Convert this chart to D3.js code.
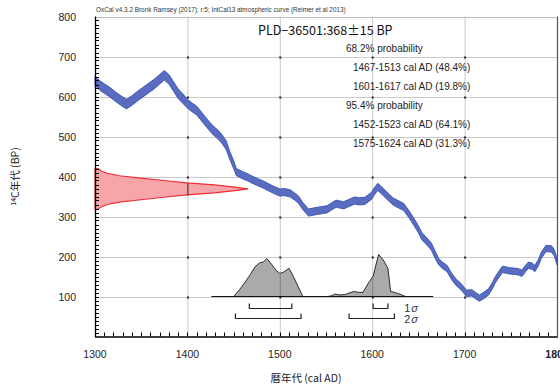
<!DOCTYPE html>
<html><head><meta charset="utf-8">
<script src="https://cdn.jsdelivr.net/npm/d3@7"></script>
<style>
body{margin:0;background:#fff;}
svg{display:block;}
</style></head>
<body>
<svg id="chart" width="560" height="385"></svg>
<script>
// ---- data ----
const headerText = "OxCal v4.3.2 Bronk Ramsey (2017); r:5; IntCal13 atmospheric curve (Reimer et al 2013)";
const sampleTitle = "PLD\u221236501:368\u00B115 BP";
const probLines = ["68.2% probability","1467-1513 cal AD (48.4%)","1601-1617 cal AD (19.8%)","95.4% probability","1452-1523 cal AD (64.1%)","1575-1624 cal AD (31.3%)"];
const probIndent = [0,1,1,0,1,1];
const xTicks = [1300,1400,1500,1600,1700,1800];
const yTicks = [100,200,300,400,500,600,700,800];
const xDomain = [1300,1800];
const yDomain = [0,800];

const calYear = [1300,1305,1310,1316,1322,1328,1334,1340,1346,1352,1358,1364,1370,1375,1380,1385,1390,1395,1400,1405,1410,1417,1423,1428,1433,1437,1442,1446,1450,1453,1460,1466,1471,1476,1482,1488,1493,1500,1505,1511,1516,1520,1525,1531,1536,1540,1546,1551,1556,1561,1565,1569,1575,1581,1586,1592,1596,1599,1603,1606,1609,1612,1616,1619,1623,1628,1634,1640,1645,1650,1654,1659,1664,1668,1672,1676,1681,1686,1691,1696,1702,1708,1712,1716,1721,1726,1730,1733,1737,1741,1745,1749,1754,1758,1762,1766,1769,1773,1776,1780,1783,1788,1794,1797,1800];
const calBP = [640,628,620,611,600,590,581,590,601,611,621,631,643,653,643,625,607,595,582,573,565,545,528,515,505,495,478,452,430,411,403,397,391,386,380,373,367,360,361,358,350,343,326,310,312,314,316,318,325,332,330,328,334,340,338,339,346,351,365,374,368,361,352,345,337,331,324,305,287,268,250,238,225,205,187,178,170,150,135,125,108,109,102,96,103,112,127,141,155,168,166,164,163,162,158,170,178,176,170,185,203,220,219,210,187];
const calErr = [12,12,12,12,12,12,12,12,12,12,12,12,12,12,12,12,12,12,11,11,11,11,11,11,11,11,11,10,10,9,9,9,9,9,9,9,9,9,9,9,9,9,9,9,9,9,9,9,9,9,9,9,9,9,9,9,9,9,9,9,9,9,9,9,9,9,9,9,9,9,9,9,9,9,8,8,8,8,8,8,8,8,8,8,8,8,8,8,8,8,8,8,8,8,8,8,8,8,8,8,8,8,8,8,8];

const rcBP   = [420,414,408,402,396,390,384,379,374,369,364,359,354,348,342,336,330,324,318];
const rcDens = [0.02,0.04,0.08,0.16,0.30,0.45,0.60,0.78,0.90,1.0,0.90,0.78,0.60,0.45,0.30,0.16,0.08,0.04,0.02];
const rcMean = 368, rcSigma = 15;

// calibrated probability distribution (two parts)
const hist1Year = [1450,1456,1462,1468,1473,1478,1482,1486,1491,1496,1500,1504,1510,1513,1517,1521,1525];
const hist1P    = [0,0.15,0.33,0.52,0.70,0.80,0.82,0.90,0.77,0.62,0.55,0.58,0.67,0.55,0.37,0.18,0];
const hist2Year = [1552,1556,1560,1563,1567,1571,1576,1580,1585,1590,1594,1597,1601,1604,1607,1612,1617,1620,1624,1628,1632,1636];
const hist2P    = [0,0.02,0.06,0.04,0.04,0.05,0.09,0.12,0.10,0.10,0.25,0.36,0.48,0.75,1.0,0.87,0.67,0.12,0.10,0.07,0.04,0];
const histRange = [1426,1666];
const histBaseBP = 100;
const sigma1 = [[1467,1513],[1601,1617]];
const sigma2 = [[1452,1523],[1575,1624]];

// ---- drawing ----
const svg = d3.select("#chart");
const L=95, R=557, T=16.5, B=336.5;
const x = d3.scaleLinear().domain(xDomain).range([L,R]);
const y = d3.scaleLinear().domain(yDomain).range([B,T]);
const sans = "'Liberation Sans', Arial, sans-serif";
const jp = "'Noto Sans CJK JP', sans-serif";

// grid
const g = svg.append("g");
g.selectAll(".vg").data(xTicks.filter(t=>t>xDomain[0]&&t<xDomain[1])).enter().append("line")
  .attr("x1",d=>x(d)+0.5).attr("x2",d=>x(d)+0.5).attr("y1",T).attr("y2",B)
  .attr("stroke","#c9c9c9").attr("stroke-width",1);
g.selectAll(".hg").data(yTicks.filter(t=>t<yDomain[1])).enter().append("line")
  .attr("y1",d=>Math.round(y(d))+0.5).attr("y2",d=>Math.round(y(d))+0.5).attr("x1",L).attr("x2",R)
  .attr("stroke","#c9c9c9").attr("stroke-width",1);
// top border
g.append("line").attr("x1",L).attr("x2",R).attr("y1",Math.round(T)+0.5).attr("y2",Math.round(T)+0.5).attr("stroke","#bdbdbd");

// intersection marks
const inter=[];
xTicks.filter(t=>t>1300&&t<1800).forEach(a=>yTicks.filter(t=>t<800).forEach(b=>inter.push([a,b])));
g.selectAll(".im").data(inter).enter().append("rect")
  .attr("x",d=>x(d[0])-0.5).attr("y",d=>Math.round(y(d[1]))-0.5).attr("width",2).attr("height",2).attr("fill","#222");

// red measured distribution
const densX = d3.scaleLinear().domain([0,1]).range([x(xDomain[0]), x(xDomain[0])+153]);
const rc = rcBP.map((b,i)=>({b, d:rcDens[i]}));
const rcArea = d3.area().y(d=>y(d.b)).x0(x(xDomain[0])).x1(d=>densX(d.d)).curve(d3.curveLinear);
svg.append("path").attr("d",rcArea(rc)).attr("fill","#f6a5a8").attr("stroke","#ee2d34").attr("stroke-width",1.1);
// dark gridline segment inside the red shape (1 sigma)
svg.append("line").attr("x1",x(1400)+0.5).attr("x2",x(1400)+0.5)
  .attr("y1",y(rcMean+rcSigma)).attr("y2",y(rcMean-rcSigma)).attr("stroke","#222").attr("stroke-width",1);

// calibration curve band
const cal = calYear.map((t,i)=>({t, b:calBP[i], e:calErr[i]}));
const calArea = d3.area().x(d=>x(d.t)).y0(d=>y(d.b-d.e)).y1(d=>y(d.b+d.e)).curve(d3.curveLinear);
svg.append("path").attr("d",calArea(cal)).attr("fill","#5a6cc0").attr("stroke","#3653b6").attr("stroke-width",0.9);

// calibrated histogram
const baseY = y(histBaseBP);
const hY = d3.scaleLinear().domain([0,1]).range([baseY, baseY-42]);
const histArea = d3.area().x(d=>x(d.t)).y0(baseY).y1(d=>hY(d.p));
[[hist1Year,hist1P],[hist2Year,hist2P]].forEach(([ys,ps],k)=>{
  const data = ys.map((t,i)=>({t,p:ps[i]}));
  svg.append("path").attr("d",histArea(data)).attr("fill","#aaaaaa").attr("stroke","#1a1a1a").attr("stroke-width",0.9);
});
// darker grid line through histogram
svg.append("line").attr("x1",x(1500)+0.5).attr("x2",x(1500)+0.5).attr("y1",hY(0.55)).attr("y2",baseY).attr("stroke","#808080");
svg.append("line").attr("x1",x(1600)+0.5).attr("x2",x(1600)+0.5).attr("y1",hY(0.44)).attr("y2",baseY).attr("stroke","#808080");
svg.append("line").attr("x1",x(histRange[0])).attr("x2",x(histRange[1])).attr("y1",baseY).attr("y2",baseY)
  .attr("stroke","#111").attr("stroke-width",1.2);

// sigma brackets
function bracket(ranges, yy){
  ranges.forEach(r=>{
    svg.append("path").attr("d",`M${x(r[0])},${yy-5}V${yy}H${x(r[1])}V${yy-5}`)
      .attr("fill","none").attr("stroke","#222").attr("stroke-width",1.2);
  });
}
bracket(sigma1, baseY+12);
bracket(sigma2, baseY+22);
[["1",baseY+15.5],["2",baseY+26.5]].forEach(([n,yy])=>{
  const t = svg.append("text").attr("x",x(1626)+8).attr("y",yy).attr("font-family",sans).attr("font-size",11).attr("fill","#333");
  t.append("tspan").text(n);
  t.append("tspan").attr("font-style","italic").attr("dx",1).text("\u03C3");
});

// axes
svg.append("line").attr("x1",L+0.5).attr("x2",L+0.5).attr("y1",T).attr("y2",B+0.5).attr("stroke","#000").attr("stroke-width",1.3);
svg.append("line").attr("x1",L).attr("x2",R+1).attr("y1",B+0.5).attr("y2",B+0.5).attr("stroke","#000").attr("stroke-width",1.3);
svg.append("line").attr("x1",R+0.5).attr("x2",R+0.5).attr("y1",T).attr("y2",B+0.5).attr("stroke","#555").attr("stroke-width",1.2);
const yMinor = d3.range(yDomain[0]+10, yDomain[1], 10);
svg.selectAll(".ymt").data(yMinor).enter().append("line")
  .attr("x1",L).attr("x2",L+4).attr("y1",d=>Math.round(y(d))+0.5).attr("y2",d=>Math.round(y(d))+0.5).attr("stroke","#000");
const xMinor = d3.range(xDomain[0]+10, xDomain[1], 10);
svg.selectAll(".xmt").data(xMinor).enter().append("line")
  .attr("x1",d=>Math.round(x(d))+0.5).attr("x2",d=>Math.round(x(d))+0.5).attr("y1",B).attr("y2",B-4).attr("stroke","#000");

// tick labels
svg.selectAll(".yl").data(yTicks).enter().append("text")
  .attr("x",L-19).attr("y",d=>y(d)+4).attr("text-anchor","end")
  .attr("font-family",sans).attr("font-size",10.5).attr("fill","#222").text(d=>d);
svg.selectAll(".xl").data(xTicks).enter().append("text")
  .attr("x",d=>x(d)).attr("y",B+21).attr("text-anchor","middle")
  .attr("font-family",sans).attr("font-size",10.5).attr("fill","#222")
  .attr("font-weight",d=>d===1800?"bold":"normal").text(d=>d);

// axis titles
svg.append("text").attr("x",L+(R-L)/2-20).attr("y",B+45).attr("text-anchor","middle")
  .attr("font-family",jp).attr("font-size",10.5).attr("fill","#222").text("暦年代 (cal AD)");
const yt = svg.append("text").attr("transform",`translate(19,${(T+B)/2}) rotate(-90)`).attr("text-anchor","middle")
  .attr("font-family",jp).attr("font-size",10.5).attr("fill","#222");
yt.append("tspan").attr("font-size",7).attr("dy",-3).text("14");
yt.append("tspan").attr("dy",3).text("C年代 (BP)");

// header and annotations
svg.append("text").attr("x",L+1).attr("y",12).attr("font-family",sans).attr("font-size",6.4).attr("fill","#333").text(headerText);
svg.append("text").attr("x",258).attr("y",35).attr("font-family",jp).attr("font-size",12.5).attr("fill","#111").text(sampleTitle);
svg.selectAll(".pl").data(probLines).enter().append("text")
  .attr("x",(d,i)=>probIndent[i]?353:346).attr("y",(d,i)=>51.5+19*i)
  .attr("font-family",sans).attr("font-size",10).attr("fill","#222").text(d=>d);
</script>
</body></html>
